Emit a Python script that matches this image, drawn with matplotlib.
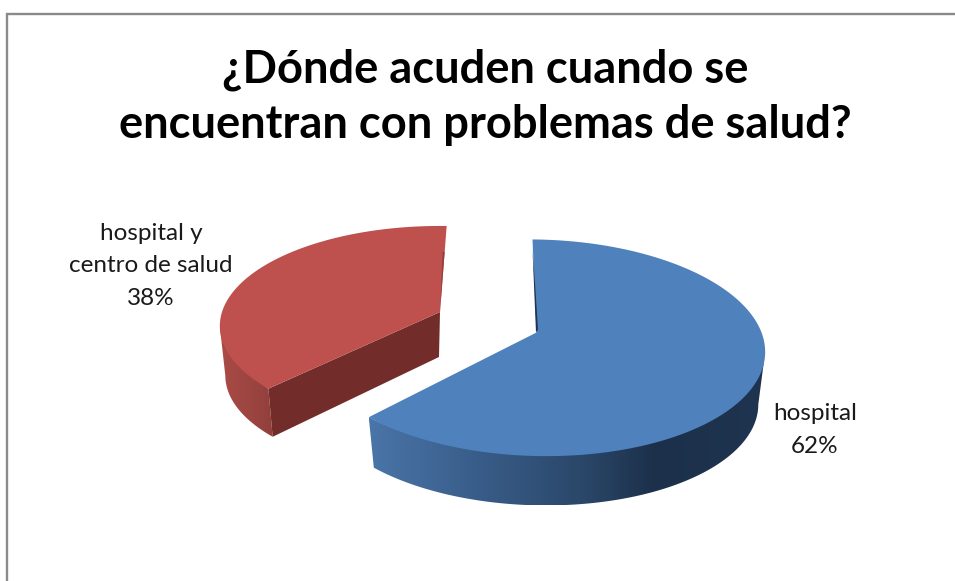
import numpy as np
import matplotlib
matplotlib.use('Agg')
import matplotlib.pyplot as plt
from matplotlib.colors import LinearSegmentedColormap
from matplotlib.patches import Polygon

title = '¿Dónde acuden cuando se\nencuentran con problemas de salud?'
labels = ['hospital\n62%', 'hospital y\ncentro de salud\n38%']
values = [62, 38]


def rim(cx, cy, R, k, p, h, a0, a1, scale=1.0, dy=0):
    # ellipse arc with a little perspective, far side is squeezed
    t = np.radians(np.linspace(a0, a1, 300))
    u, v = np.cos(t), np.sin(t)
    s = scale / (1 + p * v)
    return np.column_stack([cx + (R * u + h * v) * s, cy + dy - R * k * v * s])


def tucked(arc, cx, cy):
    # pull the upper edge of a side under the top face, ends stay put, no seam
    w = 0.02 * np.sin(np.linspace(0, np.pi, len(arc)))[:, None]
    return arc + (np.array([cx, cy]) - arc) * w


def gradient(ax, poly, stops):
    cmap = LinearSegmentedColormap.from_list('rim', stops)
    x0, x1 = poly[:, 0].min(), poly[:, 0].max()
    y0, y1 = poly[:, 1].min(), poly[:, 1].max()
    im = ax.imshow(np.linspace(0, 1, 256)[None, :], cmap=cmap, aspect='auto',
                   extent=(x0, x1, y1, y0), zorder=2, interpolation='bilinear')
    im.set_clip_path(Polygon(poly, transform=ax.transData))


fig = plt.figure(figsize=(9.55, 5.81), dpi=100)
ax = fig.add_axes([0, 0, 1, 1])
ax.set_xlim(0, 955)
ax.set_ylim(581, 0)
ax.axis('off')

# chart frame, only top and left are inside the crop
ax.plot([7.3, 7.3, 955], [581, 13.6, 13.6], color='#8a8a8a', lw=1.7, zorder=1,
        solid_joinstyle='miter')

angles = [v / sum(values) * 360 for v in values]

# blue slice, clockwise from the top
bx, by, bR, bk, bp, bh = 536.5, 332.5, 225, 0.472, 0.141, -8.5
b0 = 89
b1 = b0 - angles[0]
top = rim(bx, by, bR, bk, bp, bh, b0, b1)
low = rim(bx, by, bR, bk, bp, bh, b0, b1, scale=0.97, dy=53)
i = np.argmax(top[:, 0])
side = np.vstack([tucked(top[i:], bx, by), low[np.argmax(low[:, 0]):][::-1]])
gradient(ax, side, [(0, '#4a75a8'), (0.25, '#3a5f8c'), (0.55, '#2a4667'),
                    (0.72, '#1c304b'), (1, '#1f3450')])
ax.fill(np.r_[bx, top[:, 0]], np.r_[by, top[:, 1]], color='#4f81bd', zorder=3, lw=0)
ax.fill([top[0, 0], bx - 0.5, bx + 1.5, top[0, 0] + 2.5], [top[0, 1] + 10, by, by - 3, by - 50],
        color='#1f3450', zorder=4, lw=0)

# red slice, pulled out to the left
rx, ry, rR, rk, rp = 440, 312, 218, 0.45, 0.14
r0 = 88
r1 = r0 + angles[1]
rtop = rim(rx, ry, rR, rk, rp, 0, r0, r1)
rlow = rim(rx, ry, rR, rk, rp, 0, r0, r1, scale=0.975, dy=50)
j = np.argmin(rtop[:, 0])
m = np.argmin(rlow[:, 0])
rside = np.vstack([tucked(rtop[j:], rx, ry), rlow[m:][::-1]])
gradient(ax, rside, [(0, '#ab4b47'), (1, '#91403c')])
ax.fill([rtop[-1, 0], rx, rx - 1, rlow[-1, 0]], [rtop[-1, 1], ry, ry + 45, rlow[-1, 1]],
        color='#722d2b', zorder=3, lw=0)
ax.fill(np.r_[rx, rtop[:, 0]], np.r_[ry, rtop[:, 1]], color='#be504d', zorder=4, lw=0)
# thin dark sliver of the inner face along the right edge
ex = rx + 0.7 * (rtop[0, 0] - rx)
ey = ry + 0.7 * (rtop[0, 1] - ry)
ax.fill([ex, ex - 2, rx], [ey, ey, ry], color='#953f3c', zorder=5, lw=0)

ax.text(485, 97, title, ha='center', va='center', fontsize=32.6, fontweight='bold',
        family='Lato', color='black', linespacing=1.38, zorder=6)
ax.text(815, 430, labels[0], ha='center', va='center', fontsize=17.5, family='Lato',
        color='#1a1a1a', linespacing=1.68, zorder=6)
ax.text(151, 266, labels[1], ha='center', va='center', fontsize=17.5, family='Lato',
        color='#1a1a1a', linespacing=1.68, zorder=6)

fig.savefig('out.png', dpi=100)
